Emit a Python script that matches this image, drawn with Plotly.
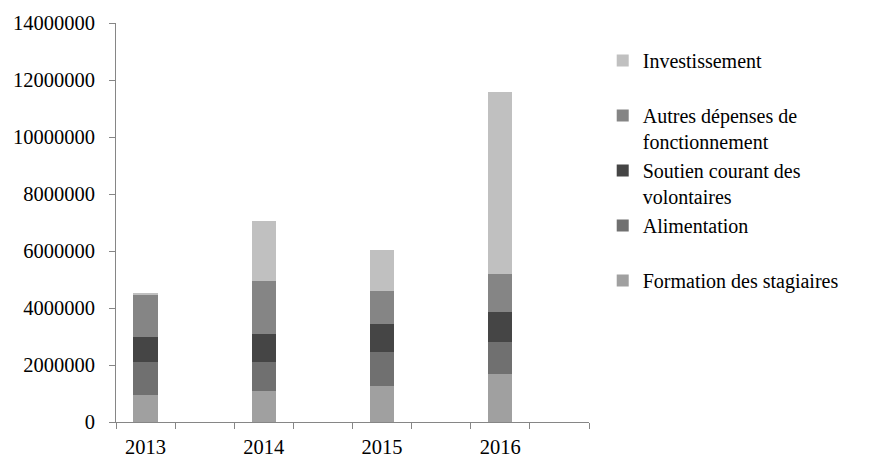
import plotly.graph_objects as go

years = ["2013", "2014", "2015", "2016"]
formation = [950000, 1090000, 1260000, 1690000]
alimentation = [1160000, 1020000, 1190000, 1120000]
soutien = [880000, 980000, 980000, 1050000]
autres = [1450000, 1860000, 1160000, 1330000]
investissement = [100000, 2100000, 1440000, 6390000]

series = [
    ("Formation des stagiaires<br> ", formation, "#a0a0a0"),
    ("Alimentation<br> ", alimentation, "#707070"),
    ("Soutien courant des<br>volontaires", soutien, "#454545"),
    ("Autres dépenses de<br>fonctionnement", autres, "#858585"),
    ("Investissement<br> ", investissement, "#c0c0c0"),
]

# category slots: each year followed by an empty slot
cats = []
labels = []
for y in years:
    cats += [y, "gap" + y]
    labels += [y, ""]

fig = go.Figure()
for name, vals, col in series:
    fig.add_trace(go.Bar(x=years, y=vals, name=name, marker=dict(color=col, line=dict(width=0)), width=0.41))

tickfont = dict(family="Liberation Serif, serif", size=20.5, color="#000000")
fig.update_layout(
    width=870, height=459,
    barmode="stack",
    plot_bgcolor="white", paper_bgcolor="white",
    margin=dict(l=108, r=289, t=15, b=45),
    font=tickfont,
    showlegend=True,
    legend=dict(x=1.029, y=0.955, xanchor="left", yanchor="top", traceorder="reversed",
                valign="top", itemwidth=30, tracegroupgap=0,
                font=dict(family="Liberation Serif, serif", size=20, color="#000000")),
    xaxis=dict(type="category", categoryorder="array", categoryarray=cats,
               tickvals=cats, ticktext=labels, tickson="boundaries",
               range=[-0.5, 7.5], showline=True, linecolor="#868686", linewidth=1,
               ticks="outside", ticklen=6, tickcolor="#868686", showgrid=False,
               zeroline=False, automargin=False, ticklabelstandoff=6, tickfont=tickfont),
    yaxis=dict(range=[0, 14000000], dtick=2000000, tickformat="d",
               showline=True, linecolor="#868686", linewidth=1,
               ticks="outside", ticklen=6, tickcolor="#868686", showgrid=False,
               zeroline=False, automargin=False, ticklabelstandoff=10, tickfont=tickfont),
)
fig.write_html("out.html")
